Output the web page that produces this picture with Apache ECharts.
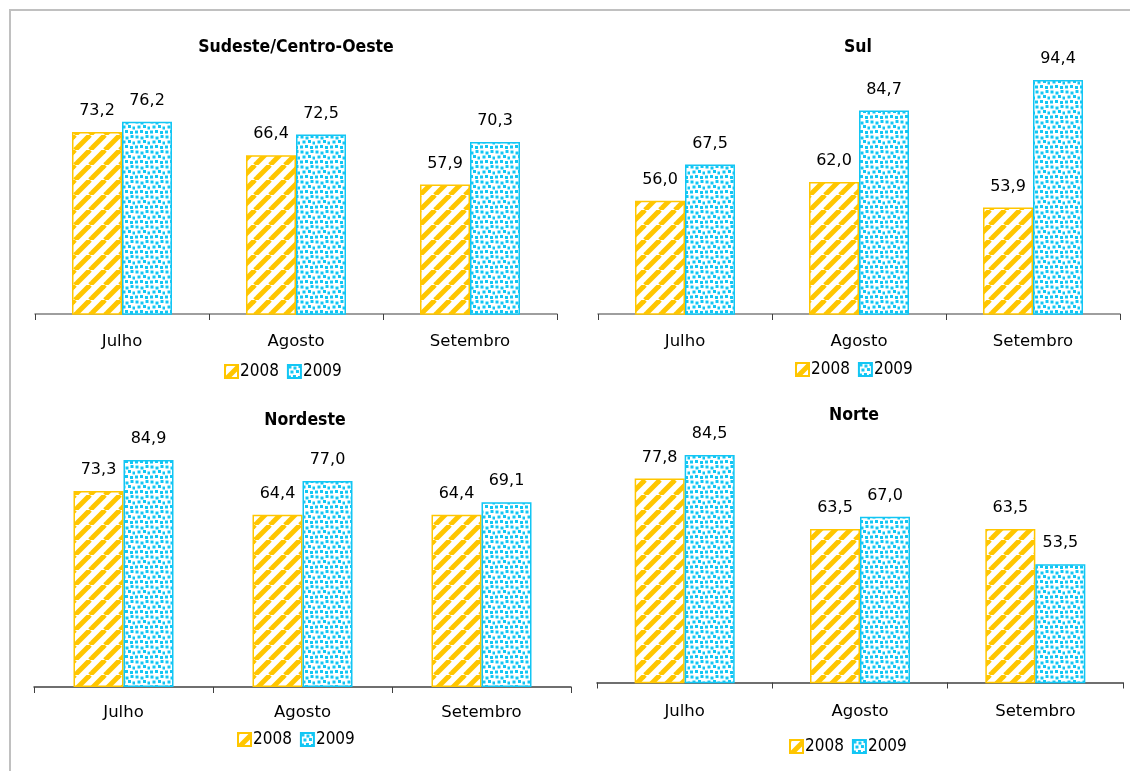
<!DOCTYPE html>
<html>
<head>
<meta charset="utf-8">
<script src="https://cdn.jsdelivr.net/npm/echarts@6/dist/echarts.min.js"></script>
<style>
  html, body { margin: 0; padding: 0; background: #fff; }
  #chart { width: 1130px; height: 771px; }
</style>
</head>
<body>
<div id="chart"></div>
<script>
// Months shown on every panel
const categories = ['Julho', 'Agosto', 'Setembro'];
const seriesNames = ['2008', '2009'];

// Regional values (%) per month
const sudeste2008 = [73.2, 66.4, 57.9];
const sudeste2009 = [76.2, 72.5, 70.3];
const sul2008 = [56.0, 62.0, 53.9];
const sul2009 = [67.5, 84.7, 94.4];
const nordeste2008 = [73.3, 64.4, 64.4];
const nordeste2009 = [84.9, 77.0, 69.1];
const norte2008 = [77.8, 63.5, 63.5];
const norte2009 = [84.5, 67.0, 53.5];

const ORANGE = '#FFC600';
const BLUE = '#12C6F4';

// Diagonal hatch fill for 2008
function stripePattern(color) {
  const s = 15;
  const c = document.createElement('canvas');
  c.width = s; c.height = s;
  const g = c.getContext('2d');
  g.fillStyle = '#fff';
  g.fillRect(0, 0, s, s);
  g.strokeStyle = color;
  g.lineWidth = 5;
  [-s, 0, s].forEach(o => {
    g.beginPath();
    g.moveTo(o, s);
    g.lineTo(o + s, 0);
    g.stroke();
  });
  return c;
}

// Speckled dot fill for 2009 (staggered squares in a 15px tile)
function dotPattern(color) {
  const s = 15;
  const c = document.createElement('canvas');
  c.width = s; c.height = s;
  const g = c.getContext('2d');
  g.fillStyle = '#fff';
  g.fillRect(0, 0, s, s);
  g.fillStyle = color;
  [[0.5, 0.5], [5.5, 1.5], [10.5, 0], [2.5, 5.5], [8, 5], [12.5, 6.5], [0, 10.5], [5, 10], [10, 11]]
    .forEach(([x, y]) => g.fillRect(x, y, 3, 3));
  return c;
}

const fill2008 = { image: stripePattern(ORANGE), repeat: 'repeat' };
const fill2009 = { image: dotPattern(BLUE), repeat: 'repeat' };

const FONT = 'DejaVu Sans';
const fmt = p => p.value.toFixed(1).replace('.', ',');

const panels = [
  { title: 'Sudeste/Centro-Oeste', tx: 291, ty: 33, grid: { left: 35, width: 522, top: 40.4, height: 273.6 }, min: 20, max: 100, margin: 19, legend: { left: 219, top: 358 }, d: [sudeste2008, sudeste2009] },
  { title: 'Sul', tx: 853, ty: 33, grid: { left: 598, width: 522, top: 62.4, height: 251.6 }, min: 20, max: 100, margin: 19, legend: { left: 790, top: 356 }, d: [sul2008, sul2009] },
  { title: 'Nordeste', tx: 300, ty: 406, grid: { left: 34, width: 537, top: 419.6, height: 267.4 }, min: 0, max: 100, margin: 17, legend: { left: 232, top: 726 }, d: [nordeste2008, nordeste2009] },
  { title: 'Norte', tx: 849, ty: 401, grid: { left: 597, width: 526, top: 400.3, height: 282.2 }, min: 20, max: 100, margin: 21, legend: { left: 784, top: 733 }, d: [norte2008, norte2009] }
];

const option = {
  backgroundColor: '#fff',
  animation: false,
  title: [], grid: [], xAxis: [], yAxis: [], series: [], legend: [],
  graphic: [
    { type: 'polyline', shape: { points: [[10, 771], [10, 10], [1130, 10]] }, style: { stroke: '#c0c0c0', lineWidth: 2, fill: null } }
  ]
};

panels.forEach((p, i) => {
  option.title.push({
    text: p.title, left: p.tx, top: p.ty, textAlign: 'center',
    textStyle: { fontFamily: 'DejaVu Sans Condensed', fontWeight: 'bold', fontSize: 17.5, color: '#000' }
  });
  option.grid.push(p.grid);
  option.xAxis.push({
    type: 'category', gridIndex: i, data: categories,
    axisLine: { lineStyle: { color: i < 2 ? '#7f7f7f' : '#404040', width: 1.5 } },
    axisTick: { show: true, length: 6, lineStyle: { color: '#404040' } },
    axisLabel: { fontFamily: FONT, fontSize: 16.5, color: '#000', margin: p.margin }
  });
  option.yAxis.push({
    type: 'value', gridIndex: i, min: p.min, max: p.max, show: false, splitLine: { show: false }
  });
  const ids = seriesNames.map(n => n + '_' + i);
  option.legend.push({
    left: p.legend.left, top: p.legend.top, itemWidth: 13, itemHeight: 13, itemGap: 8,
    icon: 'rect', data: ids,
    formatter: name => name.split('_')[0],
    textStyle: { fontFamily: 'DejaVu Sans Condensed', fontSize: 17, color: '#000', padding: [0, 0, 0, -3] }
  });
  p.d.forEach((vals, k) => {
    option.series.push({
      name: ids[k], type: 'bar', xAxisIndex: i, yAxisIndex: i,
      data: vals, barWidth: 50, barGap: '0%',
      itemStyle: { color: k === 0 ? fill2008 : fill2009, borderColor: k === 0 ? ORANGE : BLUE, borderWidth: 1.5 },
      label: { show: true, position: 'top', distance: 13, formatter: fmt, fontFamily: FONT, fontSize: 16, color: '#000' }
    });
  });
});

const chart = echarts.init(document.getElementById('chart'));
chart.setOption(option);
</script>
</body>
</html>
